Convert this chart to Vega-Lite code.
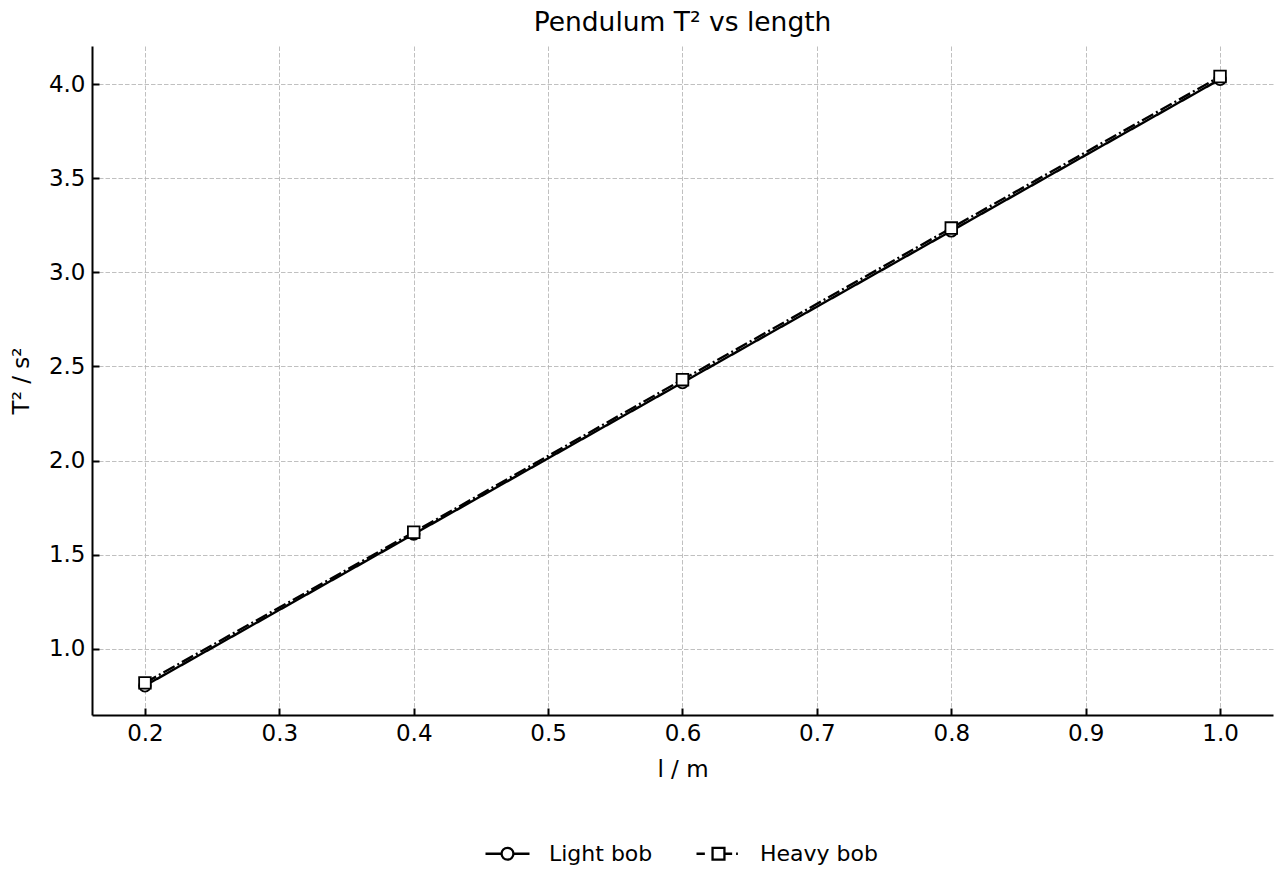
{
  "$schema": "https://vega.github.io/schema/vega-lite/v6.json",
  "width": 1181,
  "height": 669,
  "autosize": {"type": "none"},
  "padding": {"left": 92, "top": 46, "right": 7, "bottom": 165},
  "background": "white",
  "config": {
    "font": "DejaVu Sans",
    "view": {"stroke": null},
    "axis": {
      "labelFont": "DejaVu Sans",
      "titleFont": "DejaVu Sans",
      "labelFontSize": 23,
      "titleFontSize": 23,
      "titleFontWeight": "normal",
      "labelColor": "#000000",
      "titleColor": "#000000",
      "domainColor": "#000000",
      "domainWidth": 2,
      "tickColor": "#000000",
      "tickWidth": 2,
      "tickSize": -7,
      "gridColor": "#b0b0b0",
      "gridWidth": 0.8,
      "gridDash": [4.5, 2]
    }
  },
  "title": {
    "text": "Pendulum T² vs length",
    "font": "DejaVu Sans",
    "fontSize": 26.5,
    "fontWeight": "normal",
    "color": "#000000",
    "anchor": "middle",
    "offset": 10
  },
  "data": {
    "values": [
      {"l": 0.2, "T2": 0.805, "series": "Light bob"},
      {"l": 0.4, "T2": 1.61, "series": "Light bob"},
      {"l": 0.6, "T2": 2.415, "series": "Light bob"},
      {"l": 0.8, "T2": 3.22, "series": "Light bob"},
      {"l": 1.0, "T2": 4.025, "series": "Light bob"},
      {"l": 0.2, "T2": 0.82, "series": "Heavy bob"},
      {"l": 0.4, "T2": 1.62, "series": "Heavy bob"},
      {"l": 0.6, "T2": 2.43, "series": "Heavy bob"},
      {"l": 0.8, "T2": 3.235, "series": "Heavy bob"},
      {"l": 1.0, "T2": 4.04, "series": "Heavy bob"}
    ]
  },
  "encoding": {
    "x": {
      "field": "l",
      "type": "quantitative",
      "scale": {"domain": [0.1606, 1.0394], "nice": false, "zero": false},
      "axis": {
        "title": "l / m",
        "values": [0.2, 0.3, 0.4, 0.5, 0.6, 0.7, 0.8, 0.9, 1.0],
        "format": ".1f",
        "labelPadding": 14,
        "titlePadding": 13
      }
    },
    "y": {
      "field": "T2",
      "type": "quantitative",
      "scale": {"domain": [0.6495, 4.2018], "nice": false, "zero": false},
      "axis": {
        "title": "T² / s²",
        "values": [1.0, 1.5, 2.0, 2.5, 3.0, 3.5, 4.0],
        "format": ".1f",
        "labelPadding": 14,
        "titlePadding": 15
      }
    }
  },
  "resolve": {"scale": {"shape": "independent"}, "legend": {"shape": "independent"}},
  "layer": [
    {
      "mark": {"type": "line", "color": "#000000", "strokeWidth": 2.4},
      "encoding": {
        "detail": {"field": "series"},
        "strokeDash": {
          "field": "series",
          "type": "nominal",
          "scale": {"domain": ["Light bob", "Heavy bob"], "range": [[1, 0], [12.8, 3.2, 2, 3.2]]},
          "legend": null
        }
      }
    },
    {
      "mark": {"type": "point", "filled": true, "fill": "white", "stroke": "#000000", "strokeWidth": 1.8, "size": 135, "opacity": 1},
      "encoding": {
        "shape": {
          "field": "series",
          "type": "nominal",
          "scale": {"domain": ["Light bob", "Heavy bob"], "range": ["circle", "square"]},
          "legend": null
        }
      }
    },
    {
      "mark": {"type": "point", "opacity": 0, "size": 1},
      "encoding": {
        "shape": {
          "field": "series",
          "type": "nominal",
          "scale": {
            "domain": ["Light bob", "Heavy bob"],
            "range": [
              "M-1,0H-0.27 M0.27,0H1 M-0.27,0A0.27,0.27 0 1,1 0.27,0A0.27,0.27 0 1,1 -0.27,0Z",
              "M-1,0H-0.62 M0.27,0H0.62 M0.8,0H0.88 M-0.27,-0.27H0.27V0.27H-0.27Z"
            ]
          },
          "legend": {
            "title": null,
            "orient": "none",
            "direction": "horizontal",
            "legendX": 392,
            "legendY": 784,
            "symbolSize": 1936,
            "symbolStrokeColor": "#000000",
            "symbolStrokeWidth": 2.3,
            "symbolOpacity": 1,
            "symbolFillColor": "white",
            "labelFont": "DejaVu Sans",
            "labelFontSize": 22,
            "labelColor": "#000000",
            "labelOffset": 18,
            "columnPadding": 38
          }
        }
      }
    }
  ]
}
